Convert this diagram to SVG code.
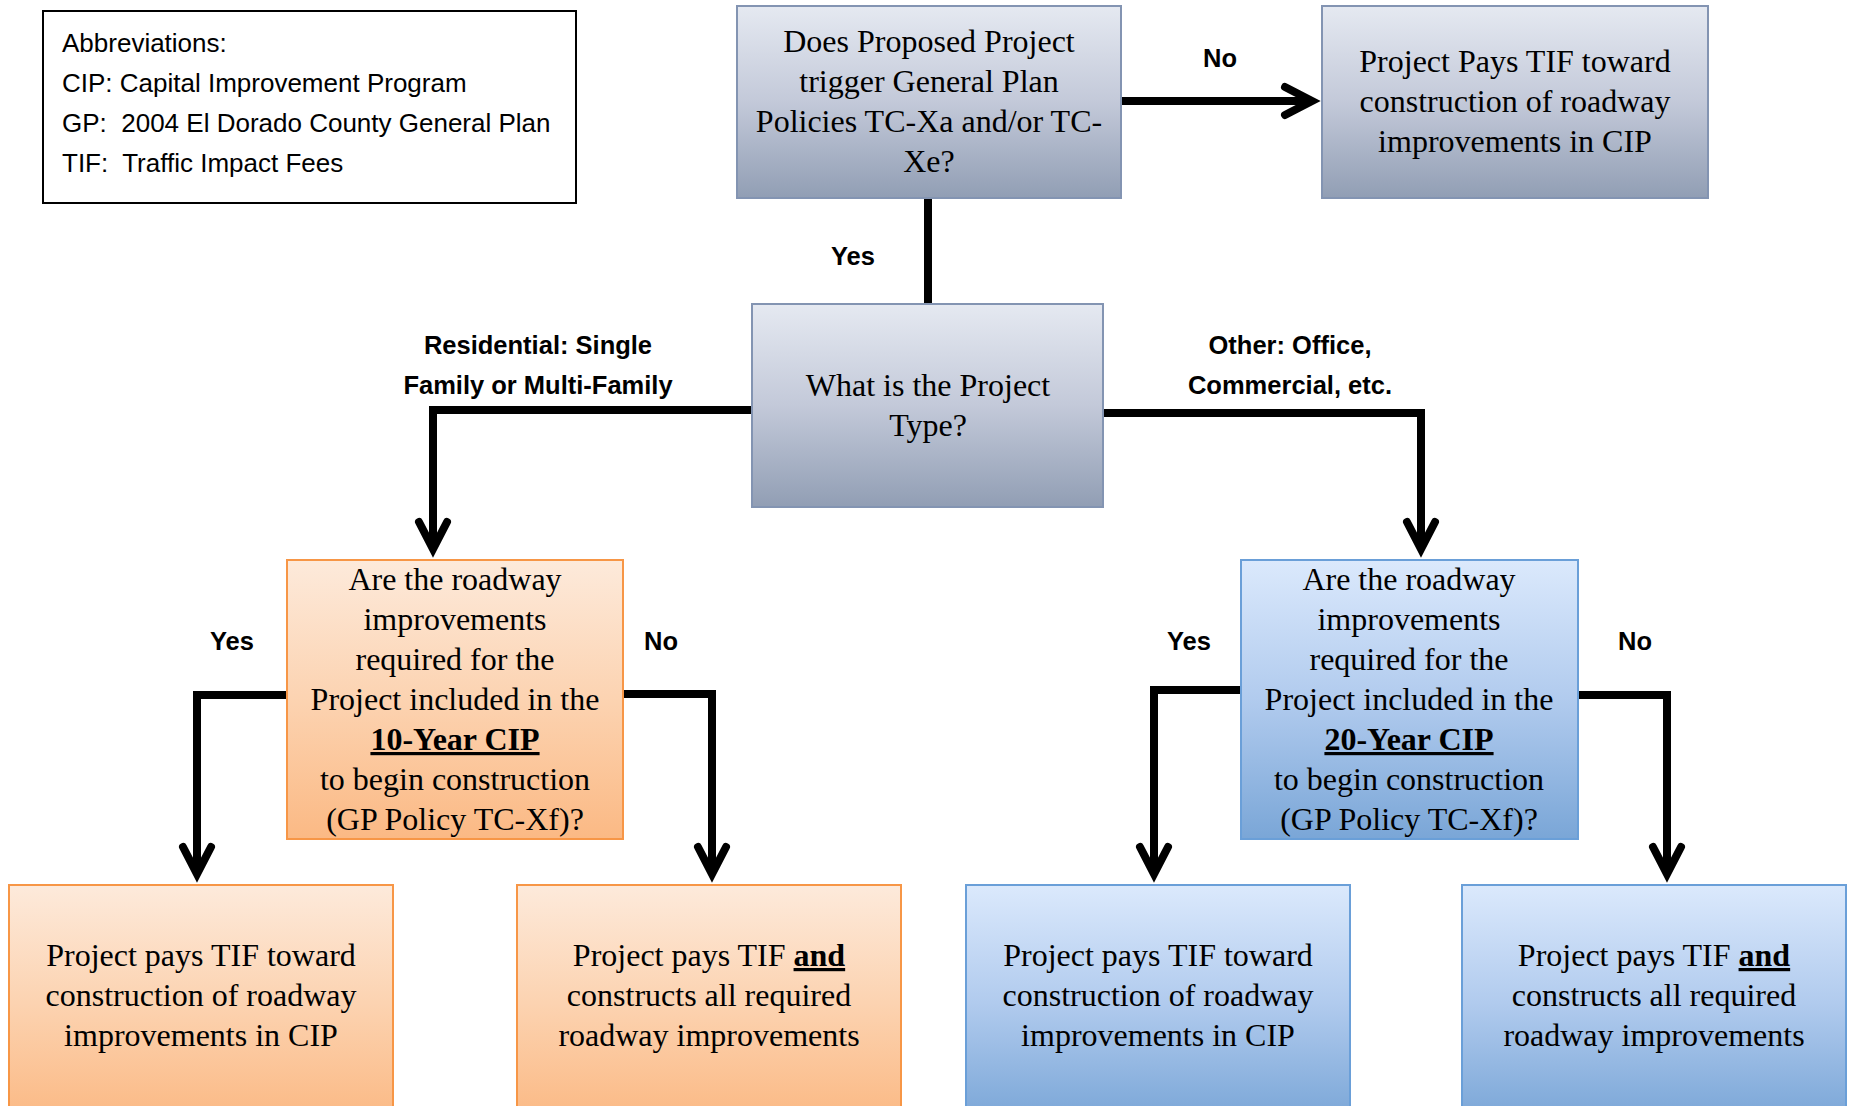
<svg xmlns="http://www.w3.org/2000/svg" width="1858" height="1106" viewBox="0 0 1858 1106">
<style>
.serif{font-family:"Liberation Serif","Times New Roman",serif;font-size:32px;fill:#000;text-anchor:middle}
.lbl{font-family:"Liberation Sans",Arial,sans-serif;font-size:25.5px;font-weight:bold;fill:#000;text-anchor:middle}
.abbr{font-family:"Liberation Sans",Arial,sans-serif;font-size:26px;fill:#000}
.b{font-weight:bold;text-decoration:underline}
.gray{fill:url(#gGray);stroke:#8394b2;stroke-width:2}
.orng{fill:url(#gOrng);stroke:#f79646;stroke-width:2}
.blue{fill:url(#gBlue);stroke:#6a9fd8;stroke-width:2}
.conn{fill:none;stroke:#000;stroke-width:8;stroke-linejoin:miter}
</style>
<defs>
<linearGradient id="gGray" x1="0" y1="0" x2="0" y2="1">
<stop offset="0" stop-color="#e5e9f1"/><stop offset="0.5" stop-color="#c3c9d9"/><stop offset="1" stop-color="#919eb4"/>
</linearGradient>
<linearGradient id="gOrng" x1="0" y1="0" x2="0" y2="1">
<stop offset="0" stop-color="#fdeadb"/><stop offset="0.5" stop-color="#fcd3b1"/><stop offset="1" stop-color="#fbb984"/>
</linearGradient>
<linearGradient id="gBlue" x1="0" y1="0" x2="0" y2="1">
<stop offset="0" stop-color="#dbe9fc"/><stop offset="0.5" stop-color="#b1cbee"/><stop offset="1" stop-color="#7aa6d7"/>
</linearGradient>
<marker id="chev" markerUnits="userSpaceOnUse" orient="auto" overflow="visible" markerWidth="10" markerHeight="10" refX="0" refY="0">
<path d="M-26,-14 L1,0 L-26,14" fill="none" stroke="#000" stroke-width="8" stroke-linecap="round" stroke-linejoin="miter" stroke-miterlimit="10"/>
</marker>
</defs>
<rect width="1858" height="1106" fill="#fff"/>

<g id="abbreviations">
<rect x="43" y="11" width="533" height="192" fill="#fff" stroke="#000" stroke-width="2"/>
<text class="abbr" x="62" y="52">Abbreviations:</text>
<text class="abbr" x="62" y="92">CIP: Capital Improvement Program</text>
<text class="abbr" x="62" y="132" xml:space="preserve">GP:  2004 El Dorado County General Plan</text>
<text class="abbr" x="62" y="172" xml:space="preserve">TIF:  Traffic Impact Fees</text>
</g>

<g id="connectors">
<path class="conn" d="M1121,101 H1311" marker-end="url(#chev)"/>
<path class="conn" d="M928,198 V304"/>
<path class="conn" d="M752,410 H433 V548" marker-end="url(#chev)"/>
<path class="conn" d="M1103,413 H1421 V548" marker-end="url(#chev)"/>
<path class="conn" d="M287,695 H197 V873" marker-end="url(#chev)"/>
<path class="conn" d="M623,694 H712 V873" marker-end="url(#chev)"/>
<path class="conn" d="M1241,690 H1154 V873" marker-end="url(#chev)"/>
<path class="conn" d="M1578,695 H1667 V873" marker-end="url(#chev)"/>
<text class="lbl" x="1220" y="67">No</text>
<text class="lbl" x="853" y="265">Yes</text>
<text class="lbl" x="538" y="354">Residential: Single</text>
<text class="lbl" x="538" y="394">Family or Multi-Family</text>
<text class="lbl" x="1290" y="354">Other: Office,</text>
<text class="lbl" x="1290" y="394">Commercial, etc.</text>
<text class="lbl" x="232" y="650">Yes</text>
<text class="lbl" x="661" y="650">No</text>
<text class="lbl" x="1189" y="650">Yes</text>
<text class="lbl" x="1635" y="650">No</text>
</g>

<g id="node-trigger">
<rect class="gray" x="737" y="6" width="384" height="192"/>
<text class="serif" x="929" y="52">Does Proposed Project</text>
<text class="serif" x="929" y="92">trigger General Plan</text>
<text class="serif" x="929" y="132">Policies TC-Xa and/or TC-</text>
<text class="serif" x="929" y="172">Xe?</text>
</g>

<g id="node-pays-tif-top">
<rect class="gray" x="1322" y="6" width="386" height="192"/>
<text class="serif" x="1515" y="72">Project Pays TIF toward</text>
<text class="serif" x="1515" y="112">construction of roadway</text>
<text class="serif" x="1515" y="152">improvements in CIP</text>
</g>

<g id="node-project-type">
<rect class="gray" x="752" y="304" width="351" height="203"/>
<text class="serif" x="928" y="396">What is the Project</text>
<text class="serif" x="928" y="436">Type?</text>
</g>

<g id="node-10yr">
<rect class="orng" x="287" y="560" width="336" height="279"/>
<text class="serif" x="455" y="590">Are the roadway</text>
<text class="serif" x="455" y="630">improvements</text>
<text class="serif" x="455" y="670">required for the</text>
<text class="serif" x="455" y="710">Project included in the</text>
<text class="serif" x="455" y="750"><tspan class="b">10-Year CIP</tspan></text>
<text class="serif" x="455" y="790">to begin construction</text>
<text class="serif" x="455" y="830">(GP Policy TC-Xf)?</text>
</g>

<g id="node-20yr">
<rect class="blue" x="1241" y="560" width="337" height="279"/>
<text class="serif" x="1409" y="590">Are the roadway</text>
<text class="serif" x="1409" y="630">improvements</text>
<text class="serif" x="1409" y="670">required for the</text>
<text class="serif" x="1409" y="710">Project included in the</text>
<text class="serif" x="1409" y="750"><tspan class="b">20-Year CIP</tspan></text>
<text class="serif" x="1409" y="790">to begin construction</text>
<text class="serif" x="1409" y="830">(GP Policy TC-Xf)?</text>
</g>

<g id="node-res-yes">
<rect class="orng" x="9" y="885" width="384" height="235"/>
<text class="serif" x="201" y="966">Project pays TIF toward</text>
<text class="serif" x="201" y="1006">construction of roadway</text>
<text class="serif" x="201" y="1046">improvements in CIP</text>
</g>

<g id="node-res-no">
<rect class="orng" x="517" y="885" width="384" height="235"/>
<text class="serif" x="709" y="966">Project pays TIF <tspan class="b">and</tspan></text>
<text class="serif" x="709" y="1006">constructs all required</text>
<text class="serif" x="709" y="1046">roadway improvements</text>
</g>

<g id="node-oth-yes">
<rect class="blue" x="966" y="885" width="384" height="235"/>
<text class="serif" x="1158" y="966">Project pays TIF toward</text>
<text class="serif" x="1158" y="1006">construction of roadway</text>
<text class="serif" x="1158" y="1046">improvements in CIP</text>
</g>

<g id="node-oth-no">
<rect class="blue" x="1462" y="885" width="384" height="235"/>
<text class="serif" x="1654" y="966">Project pays TIF <tspan class="b">and</tspan></text>
<text class="serif" x="1654" y="1006">constructs all required</text>
<text class="serif" x="1654" y="1046">roadway improvements</text>
</g>
</svg>
